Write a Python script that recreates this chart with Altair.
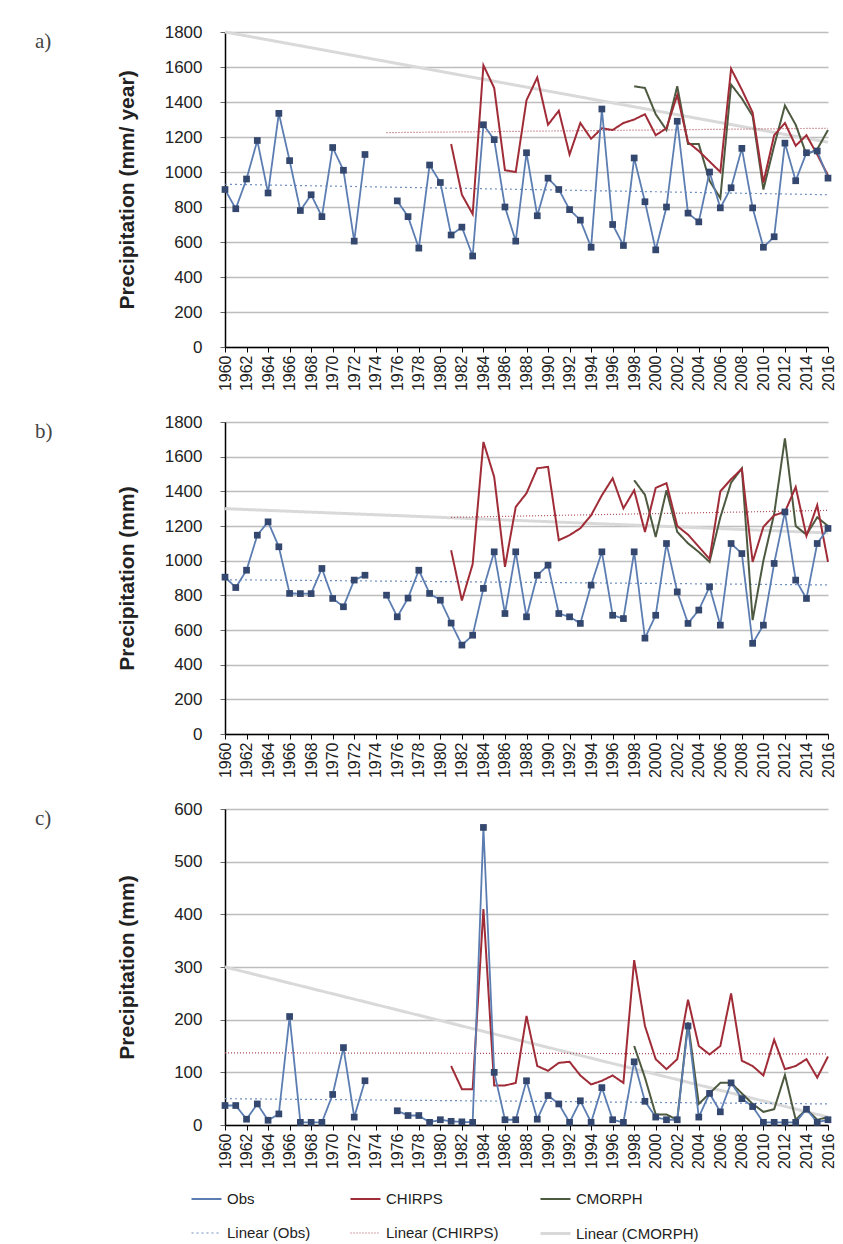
import altair as alt
import pandas as pd

years = list(range(1960, 2017))
N = None

# ---------------- panel a) ----------------
a_obs = [900, 790, 960, 1180, 880, 1335, 1065, 780, 870, 745,
         1140, 1010, 605, 1100, N, N, 835, 745, 565, 1040,
         940, 640, 685, 520, 1270, 1185, 800, 605, 1110, 750,
         965, 900, 785, 725, 570, 1360, 700, 580, 1080, 830,
         555, 800, 1290, 765, 715, 1000, 795, 910, 1135, 795,
         570, 630, 1165, 950, 1110, 1120, 965]
a_chirps_years = list(range(1981, 2017))
a_chirps = [1160, 870, 760, 1610, 1480, 1010, 1000, 1410, 1540, 1270,
            1350, 1100, 1280, 1190, 1250, 1240, 1280, 1300, 1330, 1210,
            1250, 1440, 1170, 1120, 1060, 1000, 1590, 1470, 1340, 940,
            1210, 1280, 1150, 1210, 1100, 980]
a_cmorph_years = list(range(1998, 2017))
a_cmorph = [1490, 1480, 1330, 1240, 1490, 1160, 1160, 950, 850, 1500,
            1420, 1320, 900, 1150, 1380, 1270, 1100, 1130, 1240]

# ---------------- panel b) ----------------
b_obs = [905, 845, 945, 1147, 1224, 1080, 811, 810, 810, 955,
         782, 734, 888, 916, N, 801, 676, 784, 945, 811,
         772, 640, 513, 570, 840, 1051, 695, 1051, 676, 916,
         974, 695, 676, 638, 859, 1051, 685, 666, 1051, 553,
         685, 1099, 820, 638, 715, 849, 628, 1099, 1041, 523,
         628, 984, 1281, 888, 782, 1099, 1186]
b_chirps_years = list(range(1981, 2017))
b_chirps = [1060, 770, 980, 1685, 1483, 964, 1310, 1389, 1533, 1541,
            1118, 1147, 1187, 1262, 1377, 1475, 1302, 1406, 1166, 1420,
            1447, 1200, 1150, 1080, 1010, 1400, 1470, 1530, 993, 1195,
            1262, 1281, 1425, 1143, 1320, 993]
b_cmorph_years = list(range(1998, 2017))
b_cmorph = [1464, 1380, 1137, 1406, 1166, 1100, 1050, 993, 1250, 1450,
            1533, 657, 1000, 1270, 1706, 1200, 1150, 1250, 1200]

# ---------------- panel c) ----------------
c_obs = [37, 37, 11, 40, 9, 21, 206, 5, 5, 5,
         58, 147, 15, 84, N, N, 27, 18, 18, 5,
         10, 7, 6, 5, 565, 100, 10, 10, 84, 11,
         56, 40, 5, 46, 5, 71, 10, 5, 120, 45,
         15, 10, 10, 188, 15, 60, 25, 80, 50, 35,
         5, 5, 5, 5, 30, 5, 10]
c_chirps_years = list(range(1981, 2017))
c_chirps = [112, 68, 68, 410, 75, 75, 80, 207, 112, 103,
            118, 120, 94, 77, 84, 94, 80, 313, 188, 125,
            106, 125, 238, 150, 134, 150, 250, 122, 112, 94,
            162, 106, 112, 125, 90, 130]
c_cmorph_years = list(range(1998, 2017))
c_cmorph = [150, 90, 20, 20, 10, 195, 40, 60, 80, 80,
            60, 40, 25, 30, 95, 10, 30, 10, 15]

# ---------------- linear trend lines (end points) ----------------
trend_years = {"a": {"Linear (Obs)": [1960, 2016], "Linear (CHIRPS)": [1975, 2016], "Linear (CMORPH)": [1960, 2016]},
               "b": {"Linear (Obs)": [1960, 2016], "Linear (CHIRPS)": [1981, 2016], "Linear (CMORPH)": [1960, 2016]},
               "c": {"Linear (Obs)": [1960, 2016], "Linear (CHIRPS)": [1960, 2016], "Linear (CMORPH)": [1960, 2016]}}
trend_values = {"a": {"Linear (Obs)": [930, 870], "Linear (CHIRPS)": [1225, 1250], "Linear (CMORPH)": [1800, 1170]},
                "b": {"Linear (Obs)": [890, 860], "Linear (CHIRPS)": [1250, 1290], "Linear (CMORPH)": [1300, 1160]},
                "c": {"Linear (Obs)": [50, 40], "Linear (CHIRPS)": [137, 135], "Linear (CMORPH)": [300, 15]}}

series_order = ["Obs", "CHIRPS", "CMORPH", "Linear (Obs)", "Linear (CHIRPS)", "Linear (CMORPH)"]
series_colors = ["#5B7DB1", "#A02C38", "#4D5A40", "#6F8FC0", "#B04A55", "#D9D9D9"]
series_dashes = [[1, 0], [1, 0], [1, 0], [2, 3], [1, 2], [1, 0]]
series_widths = [1.8, 2.0, 2.0, 1.2, 1.2, 3.0]

rows = []
def add(panel, series, xs, vals):
    for x, v in zip(xs, vals):
        rows.append({"panel": panel, "series": series, "year": x, "value": v})

add("a", "Obs", years, a_obs)
add("a", "CHIRPS", a_chirps_years, a_chirps)
add("a", "CMORPH", a_cmorph_years, a_cmorph)
add("b", "Obs", years, b_obs)
add("b", "CHIRPS", b_chirps_years, b_chirps)
add("b", "CMORPH", b_cmorph_years, b_cmorph)
add("c", "Obs", years, c_obs)
add("c", "CHIRPS", c_chirps_years, c_chirps)
add("c", "CMORPH", c_cmorph_years, c_cmorph)
for p in ["a", "b", "c"]:
    for s in ["Linear (Obs)", "Linear (CHIRPS)", "Linear (CMORPH)"]:
        add(p, s, trend_years[p][s], trend_values[p][s])

df = pd.DataFrame(rows)

FONT = "Liberation Sans"

color_enc = alt.Color("series:N", scale=alt.Scale(domain=series_order, range=series_colors), title=None)
dash_enc = alt.StrokeDash("series:N", scale=alt.Scale(domain=series_order, range=series_dashes), title=None)
width_enc = alt.StrokeWidth("series:N", scale=alt.Scale(type="ordinal", domain=series_order, range=series_widths), title=None)

draw_order = ["Linear (CMORPH)", "Linear (CHIRPS)", "Linear (Obs)", "CMORPH", "CHIRPS", "Obs"]


def panel(p, ymax, ystep, ytitle, label, height):
    x = alt.X("year:Q",
              scale=alt.Scale(domain=[1960, 2016], nice=False, zero=False),
              axis=alt.Axis(values=list(range(1960, 2017, 2)), format="d", labelAngle=270,
                            labelAlign="right", labelBaseline="middle", labelFontSize=16,
                            labelPadding=3, tickSize=5, grid=False, title=None,
                            domainColor="#000000", domainWidth=1.5, tickColor="#000000",
                            labelColor="#222222", labelFont=FONT))
    y = alt.Y("value:Q",
              scale=alt.Scale(domain=[0, ymax], nice=False),
              axis=alt.Axis(values=list(range(0, ymax + 1, ystep)), format="d", title=ytitle,
                            titleFontSize=21, titleFont=FONT, titleFontWeight="bold",
                            titleColor="#222222", titlePadding=26,
                            labelFontSize=17, labelFont=FONT, labelColor="#222222",
                            labelPadding=18, tickSize=5, tickColor="#666666",
                            minExtent=62, maxExtent=62,
                            domainColor="#000000", domainWidth=1.5,
                            gridColor="#BDBDBD", gridWidth=1.5))
    base = alt.Chart(df).transform_filter(alt.datum.panel == p)
    layers = []
    for s in draw_order:
        layers.append(
            base.transform_filter(alt.datum.series == s)
            .mark_line(invalid="break-paths-show-domains")
            .encode(x=x, y=y, color=color_enc, strokeDash=dash_enc, strokeWidth=width_enc)
        )
    layers.append(
        base.transform_filter(alt.datum.series == "Obs")
        .mark_square(size=45, color="#34476E", opacity=1)
        .encode(x=x, y=y)
    )
    layers.append(
        alt.Chart(pd.DataFrame({"t": [label]}))
        .mark_text(align="left", baseline="middle", font="Liberation Serif", fontSize=21, color="#444444")
        .encode(x=alt.value(-190), y=alt.value(10), text="t:N")
    )
    return alt.layer(*layers).properties(width=603, height=height)


pa = panel("a", 1800, 200, "Precipitation (mm/ year)", "a)", 315)
pb = panel("b", 1800, 200, "Precipitation (mm)", "b)", 312)
pc = panel("c", 600, 100, "Precipitation (mm)", "c)", 316)

chart = (
    alt.vconcat(pa, pb, pc, spacing=22)
    .properties(padding={"left": 35, "top": 23, "right": 5, "bottom": 5})
    .configure_view(stroke=None)
    .configure_legend(orient="none", legendX=-35, legendY=1151, columns=3, direction="horizontal",
                      symbolType="stroke", symbolSize=900, labelFontSize=15,
                      labelFont=FONT, labelColor="#222222", columnPadding=35,
                      rowPadding=10, labelLimit=300)
)

chart.save("out.html", embed_options={"renderer": "svg", "actions": False})
